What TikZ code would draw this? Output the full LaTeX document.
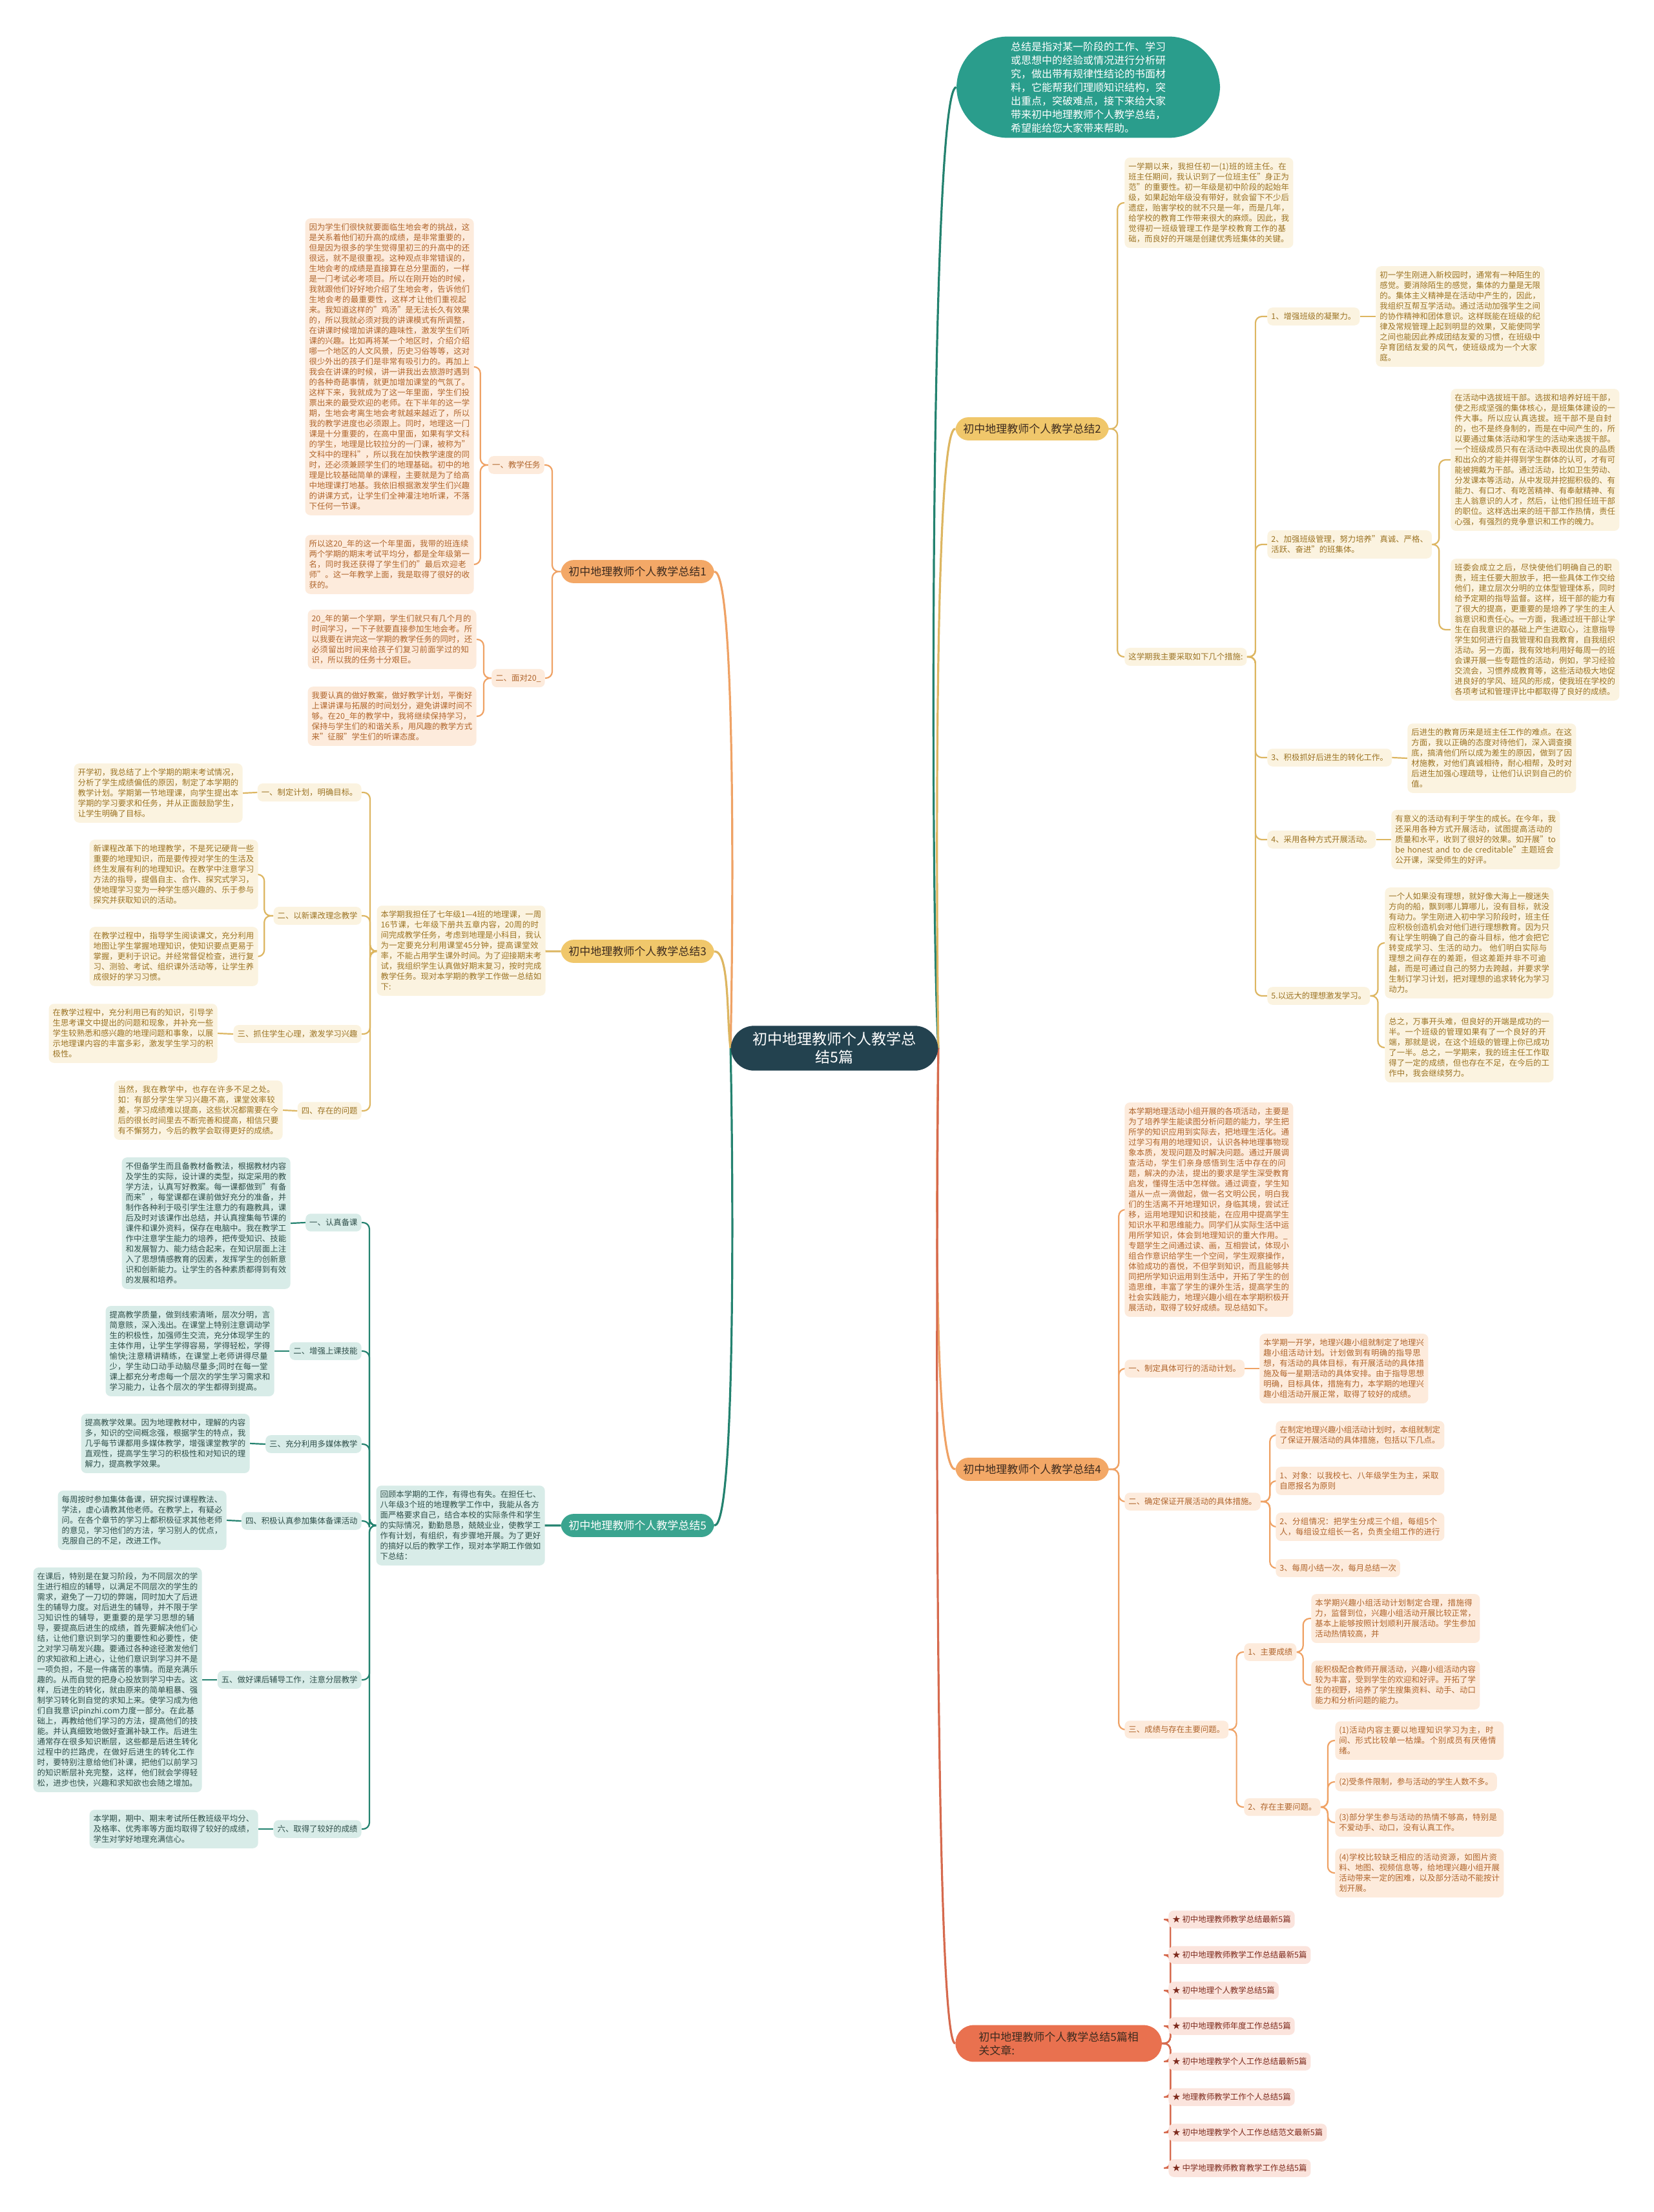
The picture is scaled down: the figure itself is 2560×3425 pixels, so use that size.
\documentclass[tikz,border=0pt]{standalone}
\usepackage{fontspec}
\setmainfont{Noto Sans CJK SC}
\XeTeXlinebreaklocale "zh"
\XeTeXlinebreakskip=0pt plus 1pt
\usetikzlibrary{backgrounds}

\definecolor{coreFill}{HTML}{23424F}
\definecolor{sumFill}{HTML}{2A9D8C}
\definecolor{orLine}{HTML}{EFA265}
\definecolor{orHub}{HTML}{F3A867}
\definecolor{orBox}{HTML}{FDEBDC}
\definecolor{orText}{HTML}{B0652C}
\definecolor{gdLine}{HTML}{DDB661}
\definecolor{gdHub}{HTML}{F0C76B}
\definecolor{gdBox}{HTML}{FBF3E0}
\definecolor{gdText}{HTML}{9C7424}
\definecolor{tlLine}{HTML}{23826F}
\definecolor{tlHub}{HTML}{3AA48F}
\definecolor{tlBox}{HTML}{D8ECE8}
\definecolor{tlText}{HTML}{2F4F4A}
\definecolor{rdLine}{HTML}{D66A4E}
\definecolor{rdHub}{HTML}{E9714F}
\definecolor{rdBox}{HTML}{FBE4DD}
\definecolor{rdText}{HTML}{7E2B1E}
\definecolor{hubText}{HTML}{3D2B1F}

\begin{document}
\begin{tikzpicture}[x=0.5pt, y=-0.5pt,
  box/.style={font=\fontsize{6.2}{8}\selectfont, inner xsep=3pt, inner ysep=4pt, rounded corners=4pt},
  ortxt/.style={box, fill=orBox, text=orText, text width=124.5pt, align=left},
  orlab/.style={box, fill=orBox, text=orText},
  gdtxt/.style={box, fill=gdBox, text=gdText, text width=124.5pt, align=left},
  gdlab/.style={box, fill=gdBox, text=gdText},
  tltxt/.style={box, fill=tlBox, text=tlText, text width=124.5pt, align=left},
  tllab/.style={box, fill=tlBox, text=tlText},
  rdlab/.style={box, fill=rdBox, text=rdText},
  hub/.style={font=\fontsize{8.5}{10.5}\selectfont, inner xsep=6pt, inner ysep=5pt, rounded corners=10pt},
  hubor/.style={hub, fill=orHub, text=hubText},
  hubgd/.style={hub, fill=gdHub, text=hubText},
  hubtl/.style={hub, fill=tlHub, text=white},
  hubrd/.style={hub, fill=rdHub, text=hubText, inner xsep=18pt, rounded corners=14pt},
  core/.style={font=\fontsize{11.5}{14}\selectfont, fill=coreFill, text=white, align=center, inner xsep=17pt, inner ysep=5pt, rounded corners=18pt},
  sumbub/.style={font=\fontsize{8}{10.5}\selectfont, fill=sumFill, text=white, text width=120pt, align=left, inner xsep=42pt, inner ysep=4pt, rounded corners=40pt},
  lnor/.style={draw=orLine, line width=1.1pt, rounded corners=5pt},
  lngd/.style={draw=gdLine, line width=1.1pt, rounded corners=5pt},
  lntl/.style={draw=tlLine, line width=1.1pt, rounded corners=5pt},
  lnrd/.style={draw=rdLine, line width=1.1pt, rounded corners=5pt},
  trunk/.style={line width=1.6pt}]

\useasboundingbox (0,0) rectangle (2560,3425);

% centre and summary
\node[core] (root) at (1292,1623) {初中地理教师个人教学总\\结5篇};
\node[sumbub] (summ) at (1685,135) {总结是指对某一阶段的工作、学习或思想中的经验或情况进行分析研究，做出带有规律性结论的书面材料，它能帮我们理顺知识结构，突出重点，突破难点，接下来给大家带来初中地理教师个人教学总结，希望能给您大家带来帮助。};

% ---- 总结1 (left, orange)
\node[hubor, anchor=west] (b1) at (868,885) {初中地理教师个人教学总结1};
\node[orlab, anchor=east] (b1a) at (843,720) {一、教学任务};
\node[ortxt, anchor=east] (b1a1) at (734,568) {因为学生们很快就要面临生地会考的挑战，这是关系着他们初升高的成绩，是非常重要的，但是因为很多的学生觉得里初三的升高中的还很远，就不是很重视。这种观点非常错误的，生地会考的成绩是直接算在总分里面的，一样是一门考试必考项目。所以在刚开始的时候，我就跟他们好好地介绍了生地会考，告诉他们生地会考的最重要性，这样才让他们重视起来。我知道这样的"鸡汤"是无法长久有效果的，所以我就必须对我的讲课模式有所调整，在讲课时候增加讲课的趣味性，激发学生们听课的兴趣。比如再将某一个地区时，介绍介绍哪一个地区的人文风景，历史习俗等等，这对很少外出的孩子们是非常有吸引力的。再加上我会在讲课的时候，讲一讲我出去旅游时遇到的各种奇葩事情，就更加增加课堂的气氛了。这样下来，我就成为了这一年里面，学生们投票出来的最受欢迎的老师。在下半年的这一学期，生地会考离生地会考就越来越近了，所以我的教学进度也必须跟上。同时，地理这一门课是十分重要的，在高中里面，如果有学文科的学生，地理是比较拉分的一门课，被称为"文科中的理科"，所以我在加快教学速度的同时，还必须兼顾学生们的地理基础。初中的地理是比较基础简单的课程，主要就是为了给高中地理课打地基。我依旧根据激发学生们兴趣的讲课方式，让学生们全神灌注地听课，不落下任何一节课。};
\node[ortxt, anchor=east] (b1a2) at (734,874) {所以这20\_年的这一个年里面，我带的班连续两个学期的期末考试平均分，都是全年级第一名，同时我还获得了学生们的"最后欢迎老师"。这一年教学上面，我是取得了很好的收获的。};
\node[orlab, anchor=east] (b1b) at (844,1050) {二、面对20\_};
\node[ortxt, anchor=east] (b1b1) at (738,990) {20\_年的第一个学期，学生们就只有几个月的时间学习，一下子就要直接参加生地会考。所以我要在讲完这一学期的教学任务的同时，还必须留出时间来给孩子们复习前面学过的知识，所以我的任务十分艰巨。};
\node[ortxt, anchor=east] (b1b2) at (738,1109) {我要认真的做好教案，做好教学计划，平衡好上课讲课与拓展的时间划分，避免讲课时间不够。在20\_年的教学中，我将继续保持学习，保持与学生们的和谐关系，用风趣的教学方式来"征服"学生们的听课态度。};

% ---- 总结3 (left, gold)
\node[hubgd, anchor=west] (b3) at (868,1473) {初中地理教师个人教学总结3};
\node[gdtxt, anchor=east] (b3o) at (845,1472) {本学期我担任了七年级1—4班的地理课，一周16节课，七年级下册共五章内容，20周的时间完成教学任务，考虑到地理是小科目，我认为一定要充分利用课堂45分钟，提高课堂效率，不能占用学生课外时间。为了迎接期末考试，我组织学生认真做好期末复习，按时完成教学任务。现对本学期的教学工作做一总结如下:};
\node[gdlab, anchor=east] (b3a) at (560,1227) {一、制定计划，明确目标。};
\node[gdtxt, anchor=east] (b3a1) at (376,1228) {开学初，我总结了上个学期的期末考试情况，分析了学生成绩偏低的原因，制定了本学期的教学计划。学期第一节地理课，向学生提出本学期的学习要求和任务，并从正面鼓励学生，让学生明确了目标。};
\node[gdlab, anchor=east] (b3b) at (560,1418) {二、以新课改理念教学};
\node[gdtxt, anchor=east] (b3b1) at (400,1354) {新课程改革下的地理教学，不是死记硬背一些重要的地理知识，而是要传授对学生的生活及终生发展有利的地理知识。在教学中注意学习方法的指导，提倡自主、合作、探究式学习，使地理学习变为一种学生感兴趣的、乐于参与探究并获取知识的活动。};
\node[gdtxt, anchor=east] (b3b2) at (400,1481) {在教学过程中，指导学生阅读课文，充分利用地图让学生掌握地理知识，使知识要点更易于掌握，更利于识记。并经常督促检查，进行复习、测验、考试、组织课外活动等，让学生养成很好的学习习惯。};
\node[gdlab, anchor=east] (b3c) at (560,1601) {三、抓住学生心理，激发学习兴趣};
\node[gdtxt, anchor=east] (b3c1) at (337,1600) {在教学过程中，充分利用已有的知识，引导学生思考课文中提出的问题和现象，并补充一些学生较熟悉和感兴趣的地理问题和事象，以展示地理课内容的丰富多彩，激发学生学习的积极性。};
\node[gdlab, anchor=east] (b3d) at (560,1720) {四、存在的问题};
\node[gdtxt, anchor=east] (b3d1) at (438,1719) {当然，我在教学中，也存在许多不足之处。如：有部分学生学习兴趣不高，课堂效率较差，学习成绩难以提高，这些状况都需要在今后的很长时间里去不断完善和提高，相信只要有不懈努力，今后的教学会取得更好的成绩。};

% ---- 总结5 (left, teal)
\node[hubtl, anchor=west] (b5) at (868,2362) {初中地理教师个人教学总结5};
\node[tltxt, anchor=east] (b5o) at (844,2362) {回顾本学期的工作，有得也有失。在担任七、八年级3个班的地理教学工作中，我能从各方面严格要求自己，结合本校的实际条件和学生的实际情况，勤勤恳恳，兢兢业业，使教学工作有计划，有组织，有步骤地开展。为了更好的搞好以后的教学工作，现对本学期工作做如下总结：};
\node[tllab, anchor=east] (b5a) at (560,1893) {一、认真备课};
\node[tltxt, anchor=east] (b5a1) at (450,1894) {不但备学生而且备教材备教法，根据教材内容及学生的实际，设计课的类型，拟定采用的教学方法，认真写好教案。每一课都做到"有备而来"，每堂课都在课前做好充分的准备，并制作各种利于吸引学生注意力的有趣教具，课后及时对该课作出总结，并认真搜集每节课的课件和课外资料，保存在电脑中。我在教学工作中注意学生能力的培养，把传受知识、技能和发展智力、能力结合起来，在知识层面上注入了思想情感教育的因素，发挥学生的创新意识和创新能力。让学生的各种素质都得到有效的发展和培养。};
\node[tllab, anchor=east] (b5b) at (560,2092) {二、增强上课技能};
\node[tltxt, anchor=east] (b5b1) at (425,2092) {提高教学质量，做到线索清晰，层次分明，言简意赅，深入浅出。在课堂上特别注意调动学生的积极性，加强师生交流，充分体现学生的主体作用，让学生学得容易，学得轻松，学得愉快;注意精讲精练，在课堂上老师讲得尽量少，学生动口动手动脑尽量多;同时在每一堂课上都充分考虑每一个层次的学生学习需求和学习能力，让各个层次的学生都得到提高。};
\node[tllab, anchor=east] (b5c) at (560,2236) {三、充分利用多媒体教学};
\node[tltxt, anchor=east] (b5c1) at (387,2235) {提高教学效果。因为地理教材中，理解的内容多，知识的空间概念强，根据学生的特点，我几乎每节课都用多媒体教学，增强课堂教学的直观性，提高学生学习的积极性和对知识的理解力，提高教学效果。};
\node[tllab, anchor=east] (b5d) at (560,2355) {四、积极认真参加集体备课活动};
\node[tltxt, anchor=east] (b5d1) at (351,2354) {每周按时参加集体备课，研究探讨课程教法、学法，虚心请教其他老师。在教学上，有疑必问。在各个章节的学习上都积极征求其他老师的意见，学习他们的方法，学习别人的优点，克服自己的不足，改进工作。};
\node[tllab, anchor=east] (b5e) at (560,2601) {五、做好课后辅导工作，注意分层教学};
\node[tltxt, anchor=east] (b5e1) at (313,2601) {在课后，特别是在复习阶段，为不同层次的学生进行相应的辅导，以满足不同层次的学生的需求，避免了一刀切的弊端，同时加大了后进生的辅导力度。对后进生的辅导，并不限于学习知识性的辅导，更重要的是学习思想的辅导，要提高后进生的成绩，首先要解决他们心结，让他们意识到学习的重要性和必要性，使之对学习萌发兴趣。要通过各种途径激发他们的求知欲和上进心，让他们意识到学习并不是一项负担，不是一件痛苦的事情。而是充满乐趣的。从而自觉的把身心投放到学习中去。这样，后进生的转化，就由原来的简单粗暴、强制学习转化到自觉的求知上来。使学习成为他们自我意识pinzhi.com力度一部分。在此基础上，再教给他们学习的方法，提高他们的技能。并认真细致地做好查漏补缺工作。后进生通常存在很多知识断层，这些都是后进生转化过程中的拦路虎，在做好后进生的转化工作时，要特别注意给他们补课，把他们以前学习的知识断层补充完整，这样，他们就会学得轻松，进步也快，兴趣和求知欲也会随之增加。};
\node[tllab, anchor=east] (b5f) at (560,2832) {六、取得了较好的成绩};
\node[tltxt, anchor=east] (b5f1) at (400,2832) {本学期，期中、期末考试所任教班级平均分、及格率、优秀率等方面均取得了较好的成绩，学生对学好地理充满信心。};

% ---- 总结2 (right, gold)
\node[hubgd, anchor=west] (b2) at (1479,664) {初中地理教师个人教学总结2};
\node[gdtxt, anchor=west] (b2a) at (1741,314) {一学期以来，我担任初一(1)班的班主任。在班主任期间，我认识到了一位班主任"身正为范"的重要性。初一年级是初中阶段的起始年级，如果起始年级没有带好，就会留下不少后遗症，贻害学校的就不只是一年，而是几年，给学校的教育工作带来很大的麻烦。因此，我觉得初一班级管理工作是学校教育工作的基础，而良好的开端是创建优秀班集体的关键。};
\node[gdlab, anchor=west] (b2b) at (1741,1017) {这学期我主要采取如下几个措施:};
\node[gdlab, anchor=west] (b2b1) at (1962,490) {1、增强班级的凝聚力。};
\node[gdtxt, anchor=west] (b2b1t) at (2130,490) {初一学生刚进入新校园时，通常有一种陌生的感觉。要消除陌生的感觉，集体的力量是无限的。集体主义精神是在活动中产生的，因此，我组织互帮互学活动。通过活动加强学生之间的协作精神和团体意识。这样既能在班级的纪律及常规管理上起到明显的效果，又能使同学之间也能因此养成团结友爱的习惯，在班级中孕育团结友爱的风气，使班级成为一个大家庭。};
\node[gdlab, anchor=west, align=left] (b2b2) at (1962,843) {2、加强班级管理，努力培养"真诚、严格、\\活跃、奋进"的班集体。};
\node[gdtxt, anchor=west] (b2b2a) at (2246,712) {在活动中选拔班干部。选拔和培养好班干部，使之形成坚强的集体核心，是班集体建设的一件大事。所以应认真选拔。班干部不是自封的，也不是终身制的，而是在中间产生的，所以要通过集体活动和学生的活动来选拔干部。一个班级成员只有在活动中表现出优良的品质和出众的才能并得到学生群体的认可，才有可能被拥戴为干部。通过活动，比如卫生劳动、分发课本等活动，从中发现并挖掘积极的、有能力、有口才、有吃苦精神、有奉献精神、有主人翁意识的人才，然后，让他们担任班干部的职位。这样选出来的班干部工作热情，责任心强，有强烈的竞争意识和工作的魄力。};
\node[gdtxt, anchor=west] (b2b2b) at (2246,975) {班委会成立之后，尽快使他们明确自己的职责，班主任要大胆放手，把一些具体工作交给他们，建立层次分明的立体型管理体系，同时给予定期的指导监督。这样，班干部的能力有了很大的提高，更重要的是培养了学生的主人翁意识和责任心。一方面，我通过班干部让学生在自我意识的基础上产生进取心，注意指导学生如何进行自我管理和自我教育，自我组织活动。另一方面，我有效地利用好每周一的班会课开展一些专题性的活动，例如，学习经验交流会，习惯养成教育等，这些活动极大地促进良好的学风、班风的形成，使我班在学校的各项考试和管理评比中都取得了良好的成绩。};
\node[gdlab, anchor=west] (b2b3) at (1962,1173) {3、积极抓好后进生的转化工作。};
\node[gdtxt, anchor=west] (b2b3t) at (2179,1174) {后进生的教育历来是班主任工作的难点。在这方面，我以正确的态度对待他们，深入调查摸底，搞清他们所以成为差生的原因，做到了因材施教，对他们真诚相待，耐心相帮，及时对后进生加强心理疏导，让他们认识到自己的价值。};
\node[gdlab, anchor=west] (b2b4) at (1962,1300) {4、采用各种方式开展活动。};
\node[gdtxt, anchor=west] (b2b4t) at (2154,1300) {有意义的活动有利于学生的成长。在今年，我还采用各种方式开展活动，试图提高活动的质量和水平，收到了很好的效果。如开展"to be honest and to de creditable"主题班会公开课，深受师生的好评。};
\node[gdlab, anchor=west] (b2b5) at (1962,1542) {5.以远大的理想激发学习。};
\node[gdtxt, anchor=west] (b2b5a) at (2144,1460) {一个人如果没有理想，就好像大海上一艘迷失方向的船，飘到哪儿算哪儿，没有目标，就没有动力。学生刚进入初中学习阶段时，班主任应积极创造机会对他们进行理想教育。因为只有让学生明确了自己的奋斗目标，他才会把它转变成学习、生活的动力。 他们明白实际与理想之间存在的差距，但这差距并非不可逾越，而是可通过自己的努力去跨越，并要求学生制订学习计划，把对理想的追求转化为学习动力。};
\node[gdtxt, anchor=west] (b2b5b) at (2144,1622) {总之，万事开头难，但良好的开端是成功的一半。一个班级的管理如果有了一个良好的开端，那就是说，在这个班级的管理上你已成功了一半。总之，一学期来，我的班主任工作取得了一定的成绩，但也存在不足，在今后的工作中，我会继续努力。};

% ---- 总结4 (right, orange)
\node[hubor, anchor=west] (b4) at (1479,2275) {初中地理教师个人教学总结4};
\node[ortxt, anchor=west] (b4a) at (1741,1873) {本学期地理活动小组开展的各项活动，主要是为了培养学生能读图分析问题的能力，学生把所学的知识应用到实际去，把地理生活化。通过学习有用的地理知识，认识各种地理事物现象本质，发现问题及时解决问题。通过开展调查活动，学生们亲身感悟到生活中存在的问题，解决的办法，提出的要求是学生深受教育启发，懂得生活中怎样做。通过调查，学生知道从一点一滴做起，做一名文明公民，明白我们的生活离不开地理知识，身临其境，尝试迁移，运用地理知识和技能，在应用中提高学生知识水平和思维能力。同学们从实际生活中运用所学知识，体会到地理知识的重大作用。\_专题学生之间通过读、画，互相尝试，体现小组合作意识给学生一个空间，学生观察操作，体验成功的喜悦，不但学到知识，而且能够共同把所学知识运用到生活中，开拓了学生的创造思维，丰富了学生的课外生活，提高学生的社会实践能力，地理兴趣小组在本学期积极开展活动，取得了较好成绩。现总结如下。};
\node[orlab, anchor=west] (b4b) at (1741,2119) {一、制定具体可行的活动计划。};
\node[ortxt, anchor=west] (b4b1) at (1950,2119) {本学期一开学，地理兴趣小组就制定了地理兴趣小组活动计划。计划做到有明确的指导思想，有活动的具体目标，有开展活动的具体措施及每一星期活动的具体安排。由于指导思想明确，目标具体，措施有力，本学期的地理兴趣小组活动开展正常，取得了较好的成绩。};
\node[orlab, anchor=west] (b4c) at (1741,2325) {二、确定保证开展活动的具体措施。};
\node[ortxt, anchor=west] (b4c0) at (1975,2222) {在制定地理兴趣小组活动计划时，本组就制定了保证开展活动的具体措施，包括以下几点。};
\node[ortxt, anchor=west] (b4c1) at (1975,2293) {1、对象：以我校七、八年级学生为主，采取自愿报名为原则};
\node[ortxt, anchor=west] (b4c2) at (1975,2364) {2、分组情况：把学生分成三个组，每组5个人，每组设立组长一名，负责全组工作的进行};
\node[orlab, anchor=west] (b4c3) at (1975,2428) {3、每周小结一次，每月总结一次};
\node[orlab, anchor=west] (b4d) at (1741,2678) {三、成绩与存在主要问题。};
\node[orlab, anchor=west] (b4d1) at (1926,2558) {1、主要成绩};
\node[ortxt, anchor=west] (b4d1a) at (2030,2506) {本学期兴趣小组活动计划制定合理，措施得力，监督到位，兴趣小组活动开展比较正常，基本上能够按照计划顺利开展活动。学生参加活动热情较高，并};
\node[ortxt, anchor=west] (b4d1b) at (2030,2609) {能积极配合教师开展活动，兴趣小组活动内容较为丰富，受到学生的欢迎和好评。开拓了学生的视野，培养了学生搜集资料、动手、动口能力和分析问题的能力。};
\node[orlab, anchor=west] (b4d2) at (1926,2798) {2、存在主要问题。};
\node[ortxt, anchor=west] (b4d2a) at (2067,2695) {(1)活动内容主要以地理知识学习为主，时间、形式比较单一枯燥。个别成员有厌倦情绪。};
\node[orlab, anchor=west] (b4d2b) at (2067,2759) {(2)受条件限制，参与活动的学生人数不多。};
\node[ortxt, anchor=west] (b4d2c) at (2067,2822) {(3)部分学生参与活动的热情不够高，特别是不爱动手、动口，没有认真工作。};
\node[ortxt, anchor=west] (b4d2d) at (2067,2900) {(4)学校比较缺乏相应的活动资源，如图片资料、地图、视频信息等，给地理兴趣小组开展活动带来一定的困难，以及部分活动不能按计划开展。};

% ---- 相关文章 (right, coral)
\node[hubrd, anchor=west, align=left] (b6) at (1479,3164) {初中地理教师个人教学总结5篇相\\关文章:};
\node[rdlab, anchor=west] (r1) at (1809,2972) {★ 初中地理教师教学总结最新5篇};
\node[rdlab, anchor=west] (r2) at (1809,3027) {★ 初中地理教师教学工作总结最新5篇};
\node[rdlab, anchor=west] (r3) at (1809,3082) {★ 初中地理个人教学总结5篇};
\node[rdlab, anchor=west] (r4) at (1809,3137) {★ 初中地理教师年度工作总结5篇};
\node[rdlab, anchor=west] (r5) at (1809,3192) {★ 初中地理教学个人工作总结最新5篇};
\node[rdlab, anchor=west] (r6) at (1809,3247) {★ 地理教师教学工作个人总结5篇};
\node[rdlab, anchor=west] (r7) at (1809,3302) {★ 初中地理教学个人工作总结范文最新5篇};
\node[rdlab, anchor=west] (r8) at (1809,3357) {★ 中学地理教师教育教学工作总结5篇};

\begin{scope}[on background layer]
  \fill[white] (0,0) rectangle (2560,3425);
  % trunks from the centre
  \draw[trunk, draw=tlLine] (root.east) .. controls (1440,1400) and (1440,137) .. (summ.west);
  \draw[trunk, draw=gdLine] (root.east) .. controls (1450,1450) and (1445,664) .. (b2.west);
  \draw[trunk, draw=orLine] (root.east) .. controls (1450,1800) and (1445,2275) .. (b4.west);
  \draw[trunk, draw=rdLine] (root.east) .. controls (1450,1850) and (1445,3164) .. (b6.west);
  \draw[trunk, draw=orLine] (root.west) .. controls (1135,1450) and (1140,885) .. (b1.east);
  \draw[trunk, draw=gdLine] (root.west) .. controls (1125,1580) and (1130,1473) .. (b3.east);
  \draw[trunk, draw=tlLine] (root.west) .. controls (1135,1800) and (1140,2362) .. (b5.east);
  % 1
  \foreach \c in {b1a,b1b} \draw[lnor] (b1.west) -- ++(-13,0) |- (\c.east);
  \foreach \c in {b1a1,b1a2} \draw[lnor] (b1a.west) -- ++(-12,0) |- (\c.east);
  \foreach \c in {b1b1,b1b2} \draw[lnor] (b1b.west) -- ++(-12,0) |- (\c.east);
  % 3
  \foreach \c in {b3o,b3a,b3b,b3c,b3d} \draw[lngd] (b3.west) -- ++(-295,0) |- (\c.east);
  \draw[lngd] (b3a.west) -- (b3a1.east);
  \foreach \c in {b3b1,b3b2} \draw[lngd] (b3b.west) -- ++(-14,0) |- (\c.east);
  \draw[lngd] (b3c.west) -- (b3c1.east);
  \draw[lngd] (b3d.west) -- (b3d1.east);
  % 5
  \foreach \c in {b5o,b5a,b5b,b5c,b5d,b5e,b5f} \draw[lntl] (b5.west) -- ++(-296,0) |- (\c.east);
  \foreach \p in {b5a,b5b,b5c,b5d,b5e,b5f} \draw[lntl] (\p.west) -- (\p1.east);
  % 2
  \foreach \c in {b2a,b2b} \draw[lngd] (b2.east) -- ++(13,0) |- (\c.west);
  \foreach \c in {b2b1,b2b2,b2b3,b2b4,b2b5} \draw[lngd] (b2b.east) -- ++(13,0) |- (\c.west);
  \foreach \p in {b2b1,b2b3,b2b4} \draw[lngd] (\p.east) -- (\p t.west);
  \foreach \c in {b2b2a,b2b2b} \draw[lngd] (b2b2.east) -- ++(11,0) |- (\c.west);
  \foreach \c in {b2b5a,b2b5b} \draw[lngd] (b2b5.east) -- ++(12,0) |- (\c.west);
  % 4
  \foreach \c in {b4a,b4b,b4c,b4d} \draw[lnor] (b4.east) -- ++(15,0) |- (\c.west);
  \draw[lnor] (b4b.east) -- (b4b1.west);
  \foreach \c in {b4c0,b4c1,b4c2,b4c3} \draw[lnor] (b4c.east) -- ++(14,0) |- (\c.west);
  \foreach \c in {b4d1,b4d2} \draw[lnor] (b4d.east) -- ++(12,0) |- (\c.west);
  \foreach \c in {b4d1a,b4d1b} \draw[lnor] (b4d1.east) -- ++(10,0) |- (\c.west);
  \foreach \c in {b4d2a,b4d2b,b4d2c,b4d2d} \draw[lnor] (b4d2.east) -- ++(11,0) |- (\c.west);
  % related
  \foreach \i in {1,...,8} \draw[lnrd] (b6.east) -- ++(13,0) |- (r\i.west);
\end{scope}
\end{tikzpicture}
\end{document}
